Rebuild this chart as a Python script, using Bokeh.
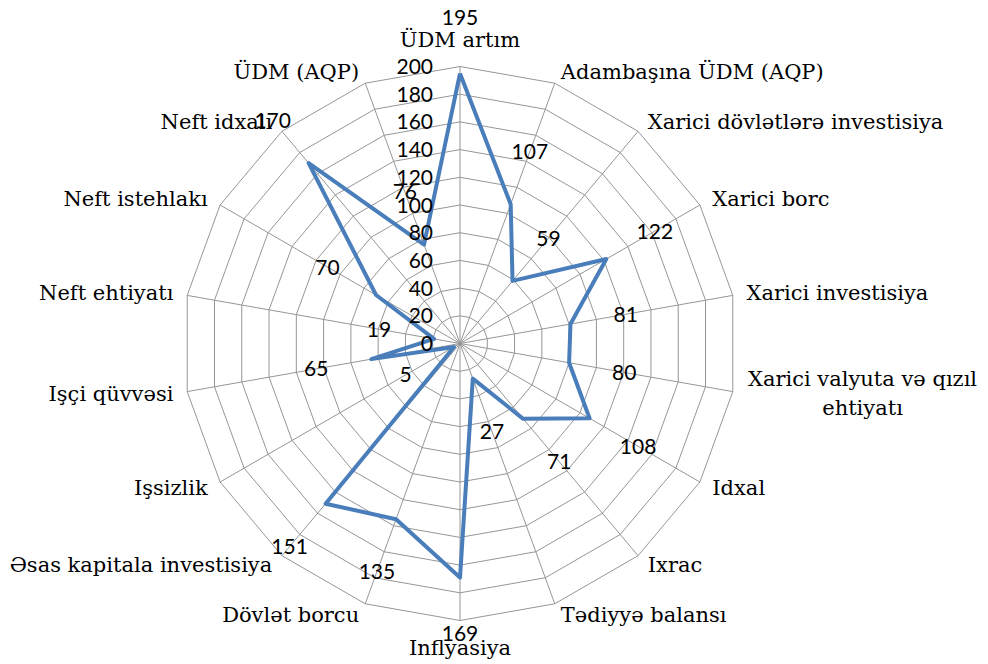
import math
from bokeh.plotting import figure
from bokeh.models import Range1d
from bokeh.embed import file_html
from bokeh.resources import INLINE
from bokeh.core.properties import value

# ---- data ----
categories = [
    "ÜDM artım",
    "Adambaşına ÜDM (AQP)",
    "Xarici dövlətlərə investisiya",
    "Xarici borc",
    "Xarici investisiya",
    "Xarici valyuta və qızıl\nehtiyatı",
    "Idxal",
    "Ixrac",
    "Tədiyyə balansı",
    "Inflyasiya",
    "Dövlət borcu",
    "Əsas kapitala investisiya",
    "Işsizlik",
    "Işçi qüvvəsi",
    "Neft ehtiyatı",
    "Neft istehlakı",
    "Neft idxalı",
    "ÜDM (AQP)",
]
values = [195, 107, 59, 122, 81, 80, 108, 71, 27, 169, 135, 151, 5, 65, 19, 70, 170, 76]
tick_values = [0, 20, 40, 60, 80, 100, 120, 140, 160, 180, 200]

# ---- layout ----
W, H = 988, 664
CX, CY = 459.5, 343.0          # centre in plot pixels
R_MAX = tick_values[-1]
PX = 277.0 / R_MAX             # pixels per data unit
N = len(categories)
theta = [2 * math.pi * k / N for k in range(N)]

GRID = "#969696"
LINE = "#4A7EBB"
SERIF = "DejaVu Serif"
SANS = "Lato"

p = figure(width=W, height=H,
           x_range=Range1d(-CX / PX, (W - CX) / PX),
           y_range=Range1d(-(H - CY) / PX, CY / PX),
           x_axis_type=None, y_axis_type=None,
           output_backend="svg", toolbar_location=None, min_border=0)
p.outline_line_color = None
p.background_fill_color = "white"
p.border_fill_color = "white"

# rings
ring_xs, ring_ys = [], []
for t in tick_values[1:]:
    ring_xs.append([t * math.sin(a) for a in theta] + [0.0])
    ring_ys.append([t * math.cos(a) for a in theta] + [t])
p.multi_line(ring_xs, ring_ys, line_color=GRID, line_width=1)

# spokes
p.segment(x0=[0] * N, y0=[0] * N,
          x1=[R_MAX * math.sin(a) for a in theta],
          y1=[R_MAX * math.cos(a) for a in theta],
          line_color=GRID, line_width=1)

# data line
lx = [v * math.sin(a) for v, a in zip(values, theta)]
ly = [v * math.cos(a) for v, a in zip(values, theta)]
p.line(lx + [lx[0]], ly + [ly[0]], line_color=LINE, line_width=4, line_join="round")

# radial tick labels
p.text(x=[-27 / PX] * len(tick_values), y=tick_values,
       text=[str(t) for t in tick_values],
       text_align="right", text_baseline="middle",
       text_font=value(SANS), text_font_size="21px", text_color="#000000")

# data labels
off = 56 / PX
p.text(x=[(v + off) * math.sin(a) for v, a in zip(values, theta)],
       y=[(v + off) * math.cos(a) for v, a in zip(values, theta)],
       text=[str(v) for v in values],
       text_align="center", text_baseline="middle",
       text_font=value(SANS), text_font_size="21px", text_color="#000000")

# category labels
FS = 21
groups = {"left": ([], [], []), "right": ([], [], []), "center": ([], [], [])}
for name, a in zip(categories, theta):
    s, c = math.sin(a), math.cos(a)
    vx, vy = R_MAX * s, R_MAX * c
    if abs(s) < 1e-6:
        dy_px = -27 * c
        groups["center"][0].append(vx)
        groups["center"][1].append(vy - dy_px / PX)
        groups["center"][2].append(name)
        continue
    dx_px = (2 + 12 * abs(s)) * (1 if s > 0 else -1)
    dy_px = -12 * c
    x = vx + dx_px / PX
    y = vy - dy_px / PX
    if "\n" in name:
        width_px = max(len(l) for l in name.split("\n")) * 0.48 * FS
        groups["center"][0].append(x + (width_px / 2) / PX * (1 if s > 0 else -1))
        groups["center"][1].append(y)
        groups["center"][2].append(name)
    else:
        key = "left" if s > 0 else "right"
        groups[key][0].append(x)
        groups[key][1].append(y)
        groups[key][2].append(name)

for align, (xs, ys, ts) in groups.items():
    if ts:
        p.text(x=xs, y=ys, text=ts, text_align=align, text_baseline="middle",
               text_font=value(SERIF), text_font_size=f"{FS}px",
               text_color="#000000", text_line_height=1.2)

open("out.html", "w").write(file_html(p, INLINE))
